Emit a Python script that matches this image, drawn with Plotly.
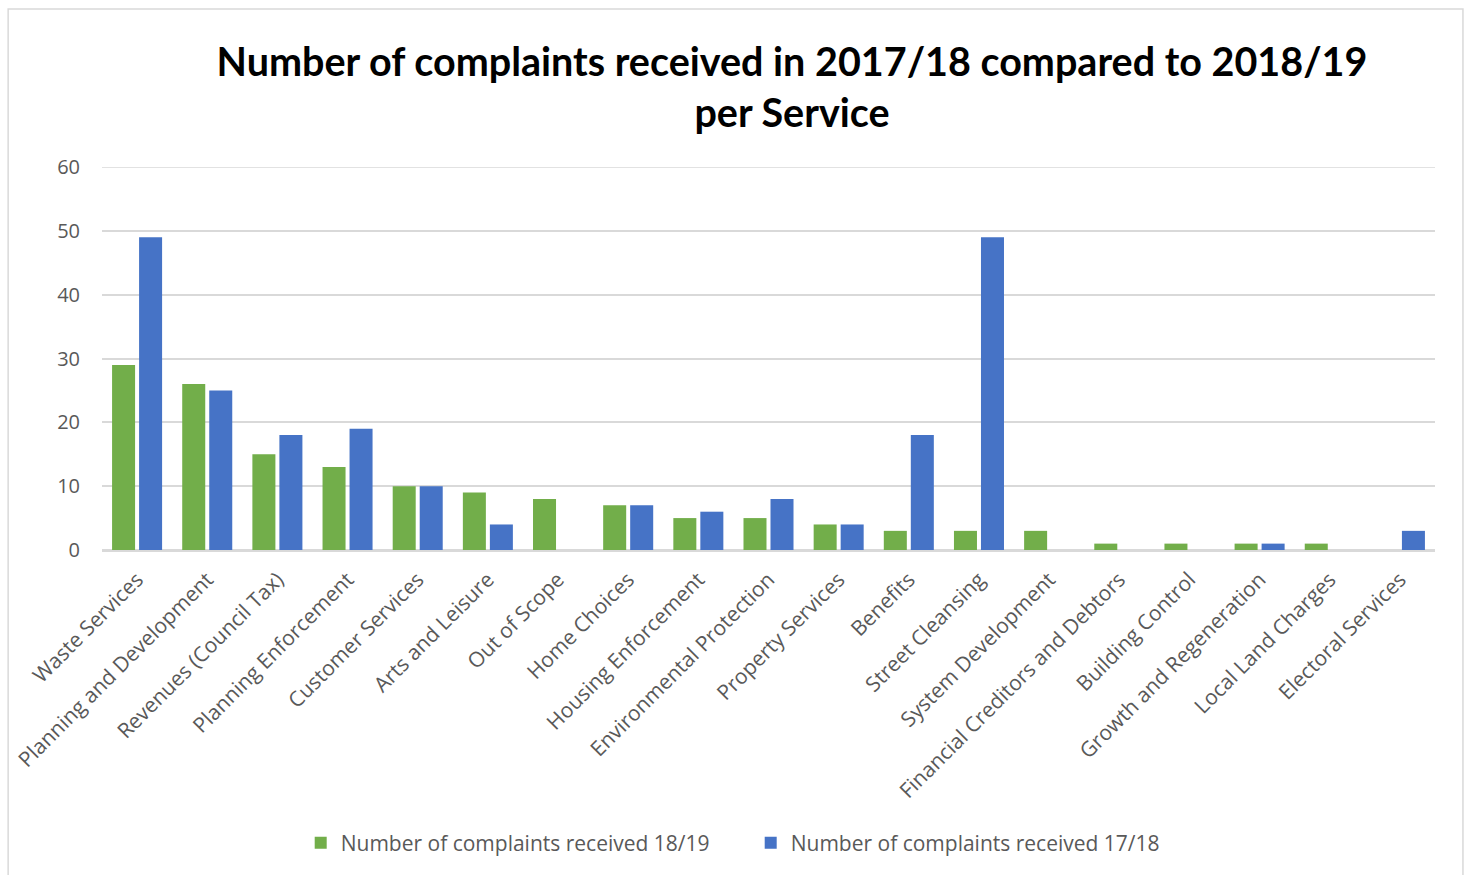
import plotly.graph_objects as go

categories = ["Waste Services", "Planning and Development", "Revenues (Council Tax)",
              "Planning Enforcement", "Customer Services", "Arts and Leisure", "Out of Scope",
              "Home Choices", "Housing Enforcement", "Environmental Protection",
              "Property Services", "Benefits", "Street Cleansing", "System Development",
              "Financial Creditors and Debtors", "Building Control", "Growth and Regeneration",
              "Local Land Charges", "Electoral Services"]
values_1819 = [29, 26, 15, 13, 10, 9, 8, 7, 5, 5, 4, 3, 3, 3, 1, 1, 1, 1, 0]
values_1718 = [49, 25, 18, 19, 10, 4, 0, 7, 6, 8, 4, 18, 49, 0, 0, 0, 1, 0, 3]
series_names = ["Number of complaints received 18/19", "Number of complaints received 17/18"]
y_ticks = [0, 10, 20, 30, 40, 50, 60]

fig = go.Figure()
fig.add_trace(go.Bar(x=categories, y=values_1819, name=series_names[0],
                     marker=dict(color="#72AE4A", line=dict(width=0))))
fig.add_trace(go.Bar(x=categories, y=values_1718, name=series_names[1],
                     marker=dict(color="#4673C6", line=dict(width=0))))

fig.update_layout(
    width=1470, height=875,
    margin=dict(l=100, r=35, t=167, b=325),
    paper_bgcolor="white", plot_bgcolor="white",
    barmode="group", bargap=0.23, bargroupgap=0.148,
    font=dict(family="Open Sans", color="#595959"),
    title=dict(text="<b>Number of complaints received in 2017/18 compared to 2018/19<br>per Service</b>",
               x=792/1470, xanchor="center", y=0.913, yanchor="middle",
               font=dict(family="Lato", size=39.5, color="black")),
    legend=dict(orientation="h", x=(299-100)/1335, xanchor="left", y=-0.765, yanchor="middle",
                font=dict(size=21, color="#595959"), itemwidth=30, traceorder="normal",
                entrywidth=405, entrywidthmode="pixels",
                bgcolor="rgba(0,0,0,0)"),
    showlegend=True,
)
fig.update_xaxes(tickangle=-45, tickfont=dict(size=21, color="#595959"),
                 showline=True, linecolor="#d9d9d9", linewidth=2, showgrid=False,
                 ticklabelstandoff=7)
fig.update_yaxes(range=[0, 60], tickvals=y_ticks, tickfont=dict(size=20, color="#595959"),
                 gridcolor="#d9d9d9", gridwidth=1.5, zeroline=True, zerolinecolor="#d9d9d9",
                 zerolinewidth=2, ticklabelstandoff=21)
fig.add_hline(y=60, line=dict(color="#d9d9d9", width=1.5), layer="below")
fig.add_shape(type="rect", xref="paper", yref="paper",
              x0=-94/1335, x1=(1463-100)/1335, y0=-(880-550)/383, y1=(550-9)/383,
              line=dict(color="#d9d9d9", width=1.5), fillcolor="rgba(0,0,0,0)", layer="below")

fig.write_html("out.html")
